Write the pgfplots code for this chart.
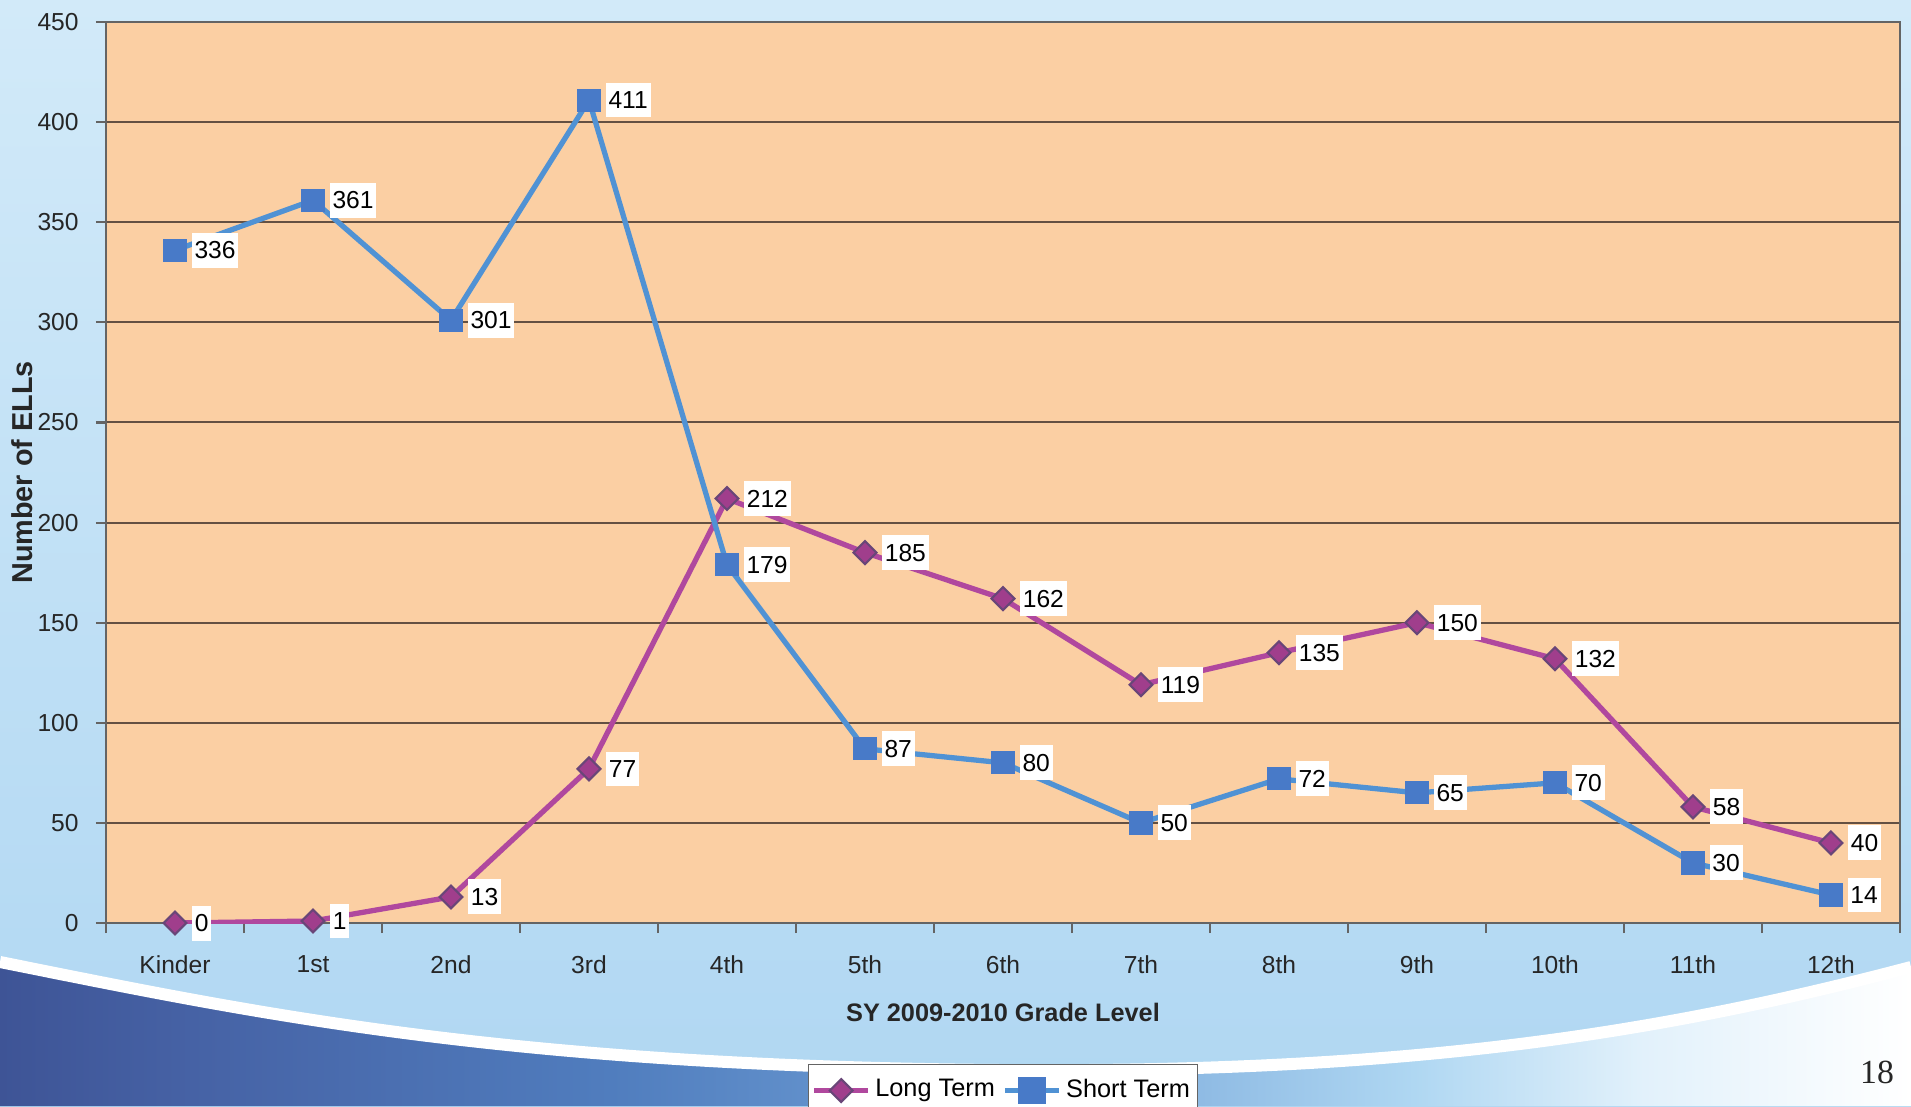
\documentclass[border=0pt]{standalone}
\usepackage{pgfplots}
\pgfplotsset{compat=1.18}
\usepackage{pgfplotstable}
\usepackage{fontspec}
\setmainfont{Liberation Sans}
\newfontfamily\pagefont{Liberation Serif}

\definecolor{peach}{RGB}{251,207,163}
\definecolor{gridbrown}{RGB}{100,80,66}
\definecolor{axisgray}{RGB}{100,100,100}
\definecolor{blueLine}{RGB}{80,146,212}
\definecolor{blueMark}{RGB}{72,122,200}
\definecolor{purpleLine}{RGB}{176,72,158}
\definecolor{purpleMark}{RGB}{160,62,140}
\definecolor{purpleEdge}{RGB}{105,70,120}
\definecolor{bgTop}{RGB}{210,234,249}
\definecolor{bgBot}{RGB}{176,215,242}
\definecolor{swA}{RGB}{62,84,150}
\definecolor{swB}{RGB}{70,98,165}
\definecolor{swC}{RGB}{80,125,190}
\definecolor{swD}{RGB}{112,160,214}
\definecolor{swE}{RGB}{175,215,242}
\definecolor{swF}{RGB}{226,241,251}

% the path spans 25bp..75bp of a TikZ shading
\pgfdeclarehorizontalshading{swoosh}{100bp}{color(0bp)=(swA); color(25bp)=(swA);
  color(30bp)=(swB); color(41bp)=(swC); color(51bp)=(swD); color(62bp)=(swE);
  color(68bp)=(swF); color(75bp)=(white); color(100bp)=(white)}

\pgfplotstableread{
x long short
0  0   336
1  1   361
2  13  301
3  77  411
4  212 179
5  185 87
6  162 80
7  119 50
8  135 72
9  150 65
10 132 70
11 58  30
12 40  14
}\ellsdata

\tikzset{
  longline/.style={draw=purpleLine, line width=1.5pt},
  longmark/.style={mark=square*, mark size=2.3pt,
    mark options={rotate=45, fill=purpleMark, draw=purpleEdge, line width=0.6pt}},
  shortline/.style={draw=blueLine, line width=1.5pt},
  shortmark/.style={mark=square*, mark size=3.1pt,
    mark options={fill=blueMark, draw=blueMark}},
}

\begin{document}
\begin{tikzpicture}[x=0.1mm,y=0.1mm]
\clip (0,0) rectangle (1911,1106);
% slide background
\shade[top color=bgTop, bottom color=bgBot] (0,0) rectangle (1911,1106);
\shade[shading=swoosh]
  (0,144) .. controls (250,94) and (500,40) .. (1000,36)
  .. controls (1400,33) and (1650,70) .. (1911,139) -- (1911,0) -- (0,0) -- cycle;
\draw[white, line width=1.2mm]
  (0,144) .. controls (250,94) and (500,40) .. (1000,36)
  .. controls (1400,33) and (1650,70) .. (1911,139);
\node[font=\pagefont\fontsize{9.6}{10}\selectfont, text=black!85] at (1877,34) {18};

\begin{axis}[
  at={(10.6mm,18.3mm)}, anchor=south west,
  scale only axis, width=179.4mm, height=90.1mm,
  xmin=-0.5, xmax=12.5, ymin=0, ymax=450,
  xtick={0,...,12},
  xticklabels={Kinder,1st,2nd,3rd,4th,5th,6th,7th,8th,9th,10th,11th,12th},
  minor xtick={-0.5,0.5,...,12.5},
  ytick={0,50,...,450},
  tick pos=left, tick align=outside,
  major tick length=1mm, minor tick length=1mm,
  major x tick style={draw=none},
  tick style={draw=axisgray, line width=0.6pt},
  ymajorgrids,
  major grid style={draw=gridbrown, line width=0.55pt},
  axis line style={draw=axisgray, line width=0.6pt},
  axis background/.style={fill=peach},
  /pgf/number format/assume math mode=true,
  ticklabel style={font=\fontsize{7}{8}\selectfont, text=black!85},
  xticklabel style={yshift=-1mm},
  yticklabel style={xshift=-0.5mm},
  xlabel={SY 2009-2010 Grade Level},
  ylabel={Number of ELLs},
  every axis x label/.style={at={(axis description cs:0.5,-0.0988)}, anchor=center,
    font=\bfseries\fontsize{7.2}{8}\selectfont, text=black!85},
  every axis y label/.style={at={(axis description cs:-0.0468,0.5)}, anchor=center, rotate=90,
    font=\bfseries\fontsize{8.2}{9}\selectfont, text=black!85},
  every node near coord/.append style={anchor=west, xshift=1.6mm, fill=white, text=black,
    inner xsep=0.8pt, inner ysep=2.5pt, font=\fontsize{7}{8}\selectfont},
  legend image code/.code={\draw[mark repeat=2, mark phase=2]
    plot coordinates {(0mm,0mm) (2.7mm,0mm) (5.4mm,0mm)};},
  legend style={at={(0.5,-0.1565)}, anchor=north, legend columns=2,
    draw=axisgray, fill=white, font=\fontsize{7.2}{8}\selectfont,
    inner xsep=0.3mm, nodes={inner xsep=0.45mm},
    /tikz/every even column/.append style={column sep=0.3mm}},
]
\addplot[longline, forget plot] table[x=x, y=long] {\ellsdata};
\addplot[shortline, forget plot] table[x=x, y=short] {\ellsdata};
\addplot[only marks, longmark, nodes near coords, forget plot] table[x=x, y=long] {\ellsdata};
\addplot[only marks, shortmark, nodes near coords, forget plot] table[x=x, y=short] {\ellsdata};
\addlegendimage{longline, longmark}
\addlegendentry{Long Term}
\addlegendimage{shortline, shortmark}
\addlegendentry{Short Term}
\end{axis}
\end{tikzpicture}
\end{document}
